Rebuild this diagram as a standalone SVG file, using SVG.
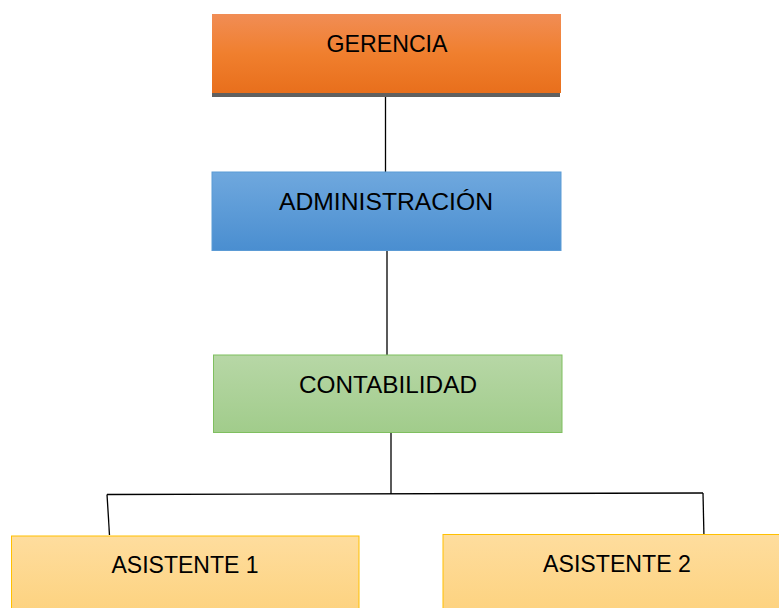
<svg xmlns="http://www.w3.org/2000/svg" width="779" height="608" viewBox="0 0 779 608">
<defs>
<linearGradient id="gOr" x1="0" y1="0" x2="0" y2="1"><stop offset="0" stop-color="#F18D55"/><stop offset="0.5" stop-color="#F07F2E"/><stop offset="1" stop-color="#E86F1C"/></linearGradient>
<linearGradient id="gBl" x1="0" y1="0" x2="0" y2="1"><stop offset="0" stop-color="#6FA8DE"/><stop offset="1" stop-color="#4A8ED0"/></linearGradient>
<linearGradient id="gGr" x1="0" y1="0" x2="0" y2="1"><stop offset="0" stop-color="#B7D7A6"/><stop offset="1" stop-color="#A1CC8B"/></linearGradient>
<linearGradient id="gYe" x1="0" y1="0" x2="0" y2="1"><stop offset="0" stop-color="#FEDD9E"/><stop offset="1" stop-color="#FDD27E"/></linearGradient>
</defs>
<style>
text{font-family:"Liberation Sans",Arial,sans-serif;font-size:24px;fill:#000;text-anchor:middle}
.ln{stroke:#000;stroke-width:1.3;fill:none}
</style>
<g id="connectors">
<line class="ln" x1="385.5" y1="96" x2="385.5" y2="172"/>
<line class="ln" x1="387" y1="250" x2="387" y2="355"/>
<line class="ln" x1="391" y1="433" x2="391" y2="494"/>
<polyline class="ln" points="107,494.5 703,493"/>
<polyline class="ln" points="107,494.5 109.5,535"/>
<polyline class="ln" points="703,493 704,538"/>
</g>
<g id="gerencia">
<rect x="212" y="92.5" width="348" height="4.5" fill="#606060"/>
<rect x="212" y="14" width="349" height="79" fill="url(#gOr)"/>
<text x="387" y="52" textLength="121" lengthAdjust="spacingAndGlyphs">GERENCIA</text>
</g>
<g id="administracion">
<rect x="212" y="172" width="349" height="78.5" fill="url(#gBl)" stroke="#5B9BD5" stroke-width="1"/>
<text x="386" y="210" textLength="214" lengthAdjust="spacingAndGlyphs">ADMINISTRACIÓN</text>
</g>
<g id="contabilidad">
<rect x="213.5" y="355" width="348.5" height="77.5" fill="url(#gGr)" stroke="#7FBF5F" stroke-width="1"/>
<text x="388" y="393" textLength="178" lengthAdjust="spacingAndGlyphs">CONTABILIDAD</text>
</g>
<g id="asistente1">
<rect x="11.5" y="536" width="347.5" height="80" fill="url(#gYe)" stroke="#FFC000" stroke-width="1"/>
<text x="185" y="572.5" textLength="147" lengthAdjust="spacingAndGlyphs">ASISTENTE 1</text>
</g>
<g id="asistente2">
<rect x="443" y="534.5" width="345" height="80" fill="url(#gYe)" stroke="#FFC000" stroke-width="1"/>
<text x="617" y="571.5" textLength="148" lengthAdjust="spacingAndGlyphs">ASISTENTE 2</text>
</g>
</svg>
